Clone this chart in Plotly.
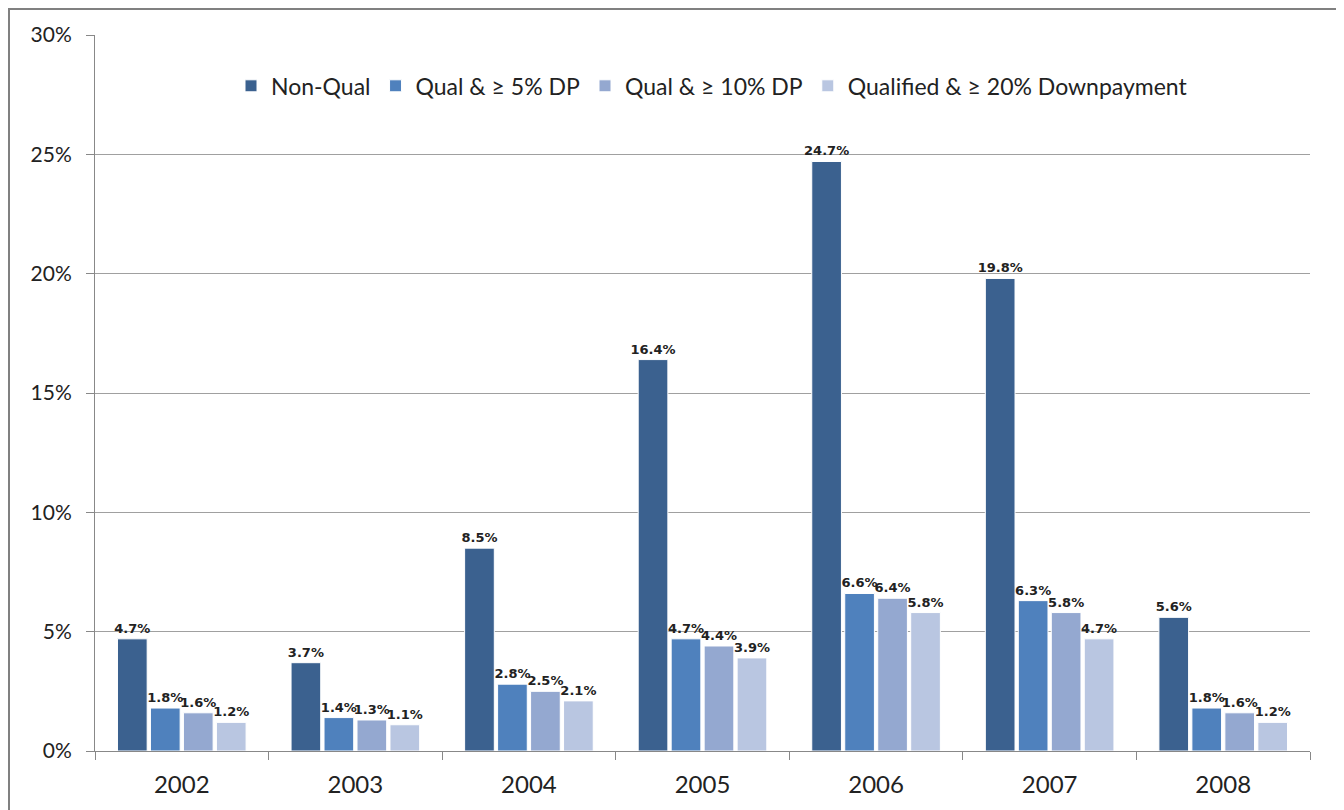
import plotly.graph_objects as go

years = ["2002", "2003", "2004", "2005", "2006", "2007", "2008"]
non_qual = [4.7, 3.7, 8.5, 16.4, 24.7, 19.8, 5.6]
qual_5 = [1.8, 1.4, 2.8, 4.7, 6.6, 6.3, 1.8]
qual_10 = [1.6, 1.3, 2.5, 4.4, 6.4, 5.8, 1.6]
qual_20 = [1.2, 1.1, 2.1, 3.9, 5.8, 4.7, 1.2]

series = [
    ("Non-Qual", non_qual, "#3B618F"),
    ("Qual & ≥ 5% DP", qual_5, "#4F81BD"),
    ("Qual & ≥ 10% DP", qual_10, "#94A8D0"),
    ("Qualified & ≥ 20% Downpayment", qual_20, "#B9C6E1"),
]

FONT = "Lato, 'Open Sans', sans-serif"
LABEL_FONT = "'DejaVu Sans', sans-serif"

fig = go.Figure()
for name, vals, color in series:
    fig.add_trace(go.Bar(
        x=years, y=vals, name=name,
        marker=dict(color=color, line=dict(color="white", width=1)),
        text=[f"{v:.1f}%" for v in vals],
        textposition="outside",
        constraintext="none",
        textfont=dict(family=LABEL_FONT, size=13, color="#222222", weight="bold"),
        cliponaxis=False,
    ))

# page has an 8px body margin, so figure coords = screen coords - 8
W, H = 1336, 802
OFF = 8
L, R, T, B = 95 - OFF, 34, 35 - OFF, 57
pw, ph = W - L - R, H - T - B

def px(x):
    return (x - OFF - L) / pw

def py(y):
    return (H - B - (y - OFF)) / ph

fig.update_layout(
    width=W, height=H,
    margin=dict(l=L, r=R, t=T, b=B),
    paper_bgcolor="white", plot_bgcolor="white",
    barmode="group", bargap=0.24, bargroupgap=0.1,
    font=dict(family=FONT, size=20, color="#222222"),
    legend=dict(
        orientation="h", x=px(712), xanchor="center", y=py(86), yanchor="middle",
        font=dict(family=FONT, size=23, color="#222222"),
        bgcolor="rgba(0,0,0,0)", itemwidth=30, traceorder="normal",
    ),
    xaxis=dict(
        type="category", showgrid=False, showline=True, linecolor="#888888", linewidth=1,
        ticks="outside", tickson="boundaries", ticklen=8, tickcolor="#888888",
        tickfont=dict(family=FONT, size=24, color="#222222"),
        ticklabelstandoff=12,
    ),
    yaxis=dict(
        range=[0, 30], tickvals=[0, 5, 10, 15, 20, 25, 30],
        ticktext=["0%", "5%", "10%", "15%", "20%", "25%", "30%"],
        showgrid=True, gridcolor="#A0A0A0", gridwidth=1,
        showline=True, linecolor="#888888", linewidth=1,
        ticks="outside", ticklen=8, tickcolor="#888888",
        tickfont=dict(family=FONT, size=21, color="#222222"),
        ticklabelstandoff=10,
        zeroline=False,
    ),
    shapes=[dict(
        type="rect", xref="paper", yref="paper",
        x0=px(9), x1=px(1338), y0=py(830), y1=py(9),
        line=dict(color="#808080", width=2), fillcolor="rgba(0,0,0,0)", layer="below",
    )],
)

fig.write_html("out.html")
